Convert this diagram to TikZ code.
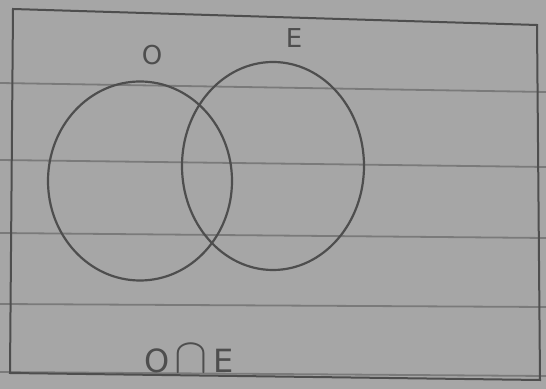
\documentclass[tikz,border=0pt]{standalone}
\usepackage{fontspec}
\setsansfont{DejaVu Sans}
\usepackage{tikz}
\usetikzlibrary{positioning,shapes.geometric}
\definecolor{paper}{HTML}{A6A6A6}
\definecolor{ruling}{HTML}{7A7A7A}
\definecolor{pencil}{HTML}{4E4E4E}

\begin{document}
\begin{tikzpicture}[x=0.5pt,y=-0.5pt,
    setring/.style={draw=pencil, ellipse, inner sep=0pt, line width=1.1pt},
    setname/.style={text=pencil, font=\sffamily\fontsize{13}{13}\selectfont, inner sep=0pt}]
  % paper sheet with its ruling
  \fill[paper] (0,0) rectangle (546,389);
  \useasboundingbox (0,0) rectangle (546,389);
  \foreach \yl/\yr in {83/92, 160/167, 233/238, 304/307, 372/376}
    \draw[ruling, line width=0.9pt] (0,\yl) -- (546,\yr);
  % universal set
  \draw[pencil, line width=1pt] (13,9) -- (537,25) -- (540,380) -- (10,373) -- cycle;
  % the two sets
  \node[setname, minimum width=92pt, minimum height=99.5pt, setring] (odd) at (140,181) {};
  \node[setring, minimum width=91pt, minimum height=104pt] (even) at (273,166) {};
  \node[setname] (oname) at (152,55) {O};
  \node[setname] (ename) at (294,38) {E};
  \node[setname, anchor=base, font=\sffamily\fontsize{16}{16}\selectfont] (both) at (189,373)
    {O\,{\fontsize{30}{30}\selectfont$\cap$}\,E};
\end{tikzpicture}
\end{document}
